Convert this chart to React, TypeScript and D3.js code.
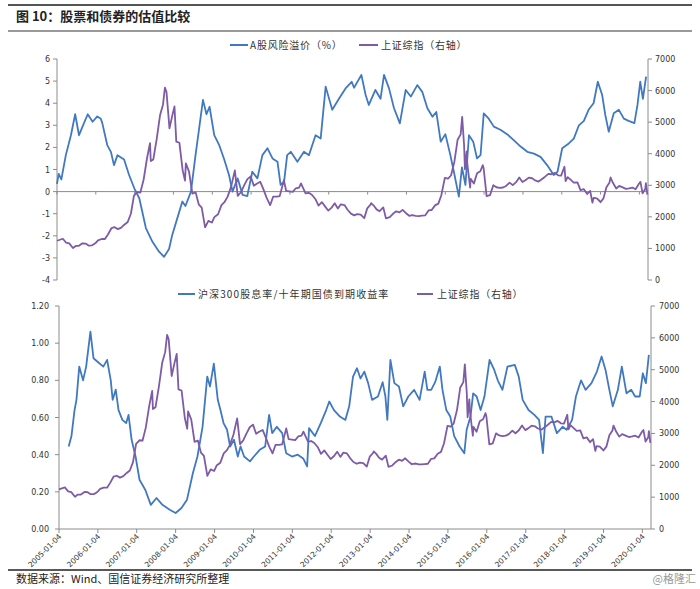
import React from 'react';
import * as d3 from 'd3';

type Pt = [string, number];

// 上证综指 (right axis, both panels)
const sse: Pt[] = [
  ['2005-01-04', 1243], ['2005-02-28', 1306], ['2005-03-31', 1181], ['2005-04-29', 1159], ['2005-06-03', 1013], ['2005-06-30', 1080],
  ['2005-07-29', 1083], ['2005-08-31', 1162], ['2005-09-30', 1155], ['2005-10-28', 1092], ['2005-11-30', 1099], ['2005-12-30', 1161],
  ['2006-01-25', 1258], ['2006-02-28', 1299], ['2006-03-31', 1298], ['2006-04-28', 1440], ['2006-05-31', 1641], ['2006-06-30', 1672],
  ['2006-07-31', 1612], ['2006-08-31', 1658], ['2006-09-29', 1752], ['2006-10-31', 1837], ['2006-11-30', 2099], ['2006-12-29', 2675],
  ['2007-01-31', 2786], ['2007-02-27', 2771], ['2007-03-30', 3183], ['2007-04-30', 3841], ['2007-05-29', 4335], ['2007-06-05', 3767],
  ['2007-06-29', 3820], ['2007-07-31', 4471], ['2007-08-31', 5218], ['2007-09-28', 5552], ['2007-10-16', 6092], ['2007-10-31', 5954],
  ['2007-11-28', 4803], ['2007-12-28', 5262], ['2008-01-14', 5497], ['2008-01-31', 4383], ['2008-02-29', 4348], ['2008-03-31', 3473],
  ['2008-04-22', 3147], ['2008-04-30', 3693], ['2008-05-30', 3433], ['2008-06-30', 2736], ['2008-07-31', 2776], ['2008-08-29', 2397],
  ['2008-09-26', 2293], ['2008-10-28', 1665], ['2008-11-28', 1871], ['2008-12-31', 1821], ['2009-01-23', 1991], ['2009-02-27', 2082],
  ['2009-03-31', 2373], ['2009-04-30', 2477], ['2009-05-27', 2633], ['2009-06-30', 2959], ['2009-08-04', 3471], ['2009-08-31', 2667],
  ['2009-09-30', 2779], ['2009-10-30', 2996], ['2009-11-30', 3195], ['2009-12-31', 3277], ['2010-01-29', 2989], ['2010-02-26', 3051],
  ['2010-03-31', 3110], ['2010-04-30', 2871], ['2010-05-31', 2592], ['2010-07-02', 2373], ['2010-07-30', 2638], ['2010-08-31', 2639],
  ['2010-09-30', 2656], ['2010-11-08', 3159], ['2010-11-30', 2820], ['2010-12-31', 2808], ['2011-01-31', 2791], ['2011-02-28', 2905],
  ['2011-03-31', 2928], ['2011-04-18', 3057], ['2011-05-31', 2743], ['2011-06-30', 2762], ['2011-07-29', 2701], ['2011-08-31', 2567],
  ['2011-09-30', 2359], ['2011-10-31', 2468], ['2011-11-30', 2333], ['2011-12-30', 2199], ['2012-01-31', 2292], ['2012-02-29', 2428],
  ['2012-03-30', 2263], ['2012-04-27', 2397], ['2012-05-31', 2373], ['2012-06-29', 2225], ['2012-07-31', 2103], ['2012-08-31', 2047],
  ['2012-09-28', 2086], ['2012-10-31', 2069], ['2012-12-03', 1959], ['2012-12-31', 2269], ['2013-01-31', 2385], ['2013-02-06', 2434],
  ['2013-02-28', 2366], ['2013-03-29', 2237], ['2013-04-26', 2178], ['2013-05-31', 2301], ['2013-06-25', 1951], ['2013-07-31', 1994],
  ['2013-08-30', 2098], ['2013-09-30', 2175], ['2013-10-31', 2141], ['2013-11-29', 2220], ['2013-12-31', 2116], ['2014-01-30', 2033],
  ['2014-02-28', 2056], ['2014-03-31', 2033], ['2014-04-30', 2026], ['2014-05-30', 2039], ['2014-06-30', 2048], ['2014-07-31', 2202],
  ['2014-08-29', 2217], ['2014-09-30', 2364], ['2014-10-31', 2420], ['2014-11-28', 2683], ['2014-12-31', 3235], ['2015-01-30', 3210],
  ['2015-02-27', 3310], ['2015-03-31', 3748], ['2015-04-30', 4442], ['2015-05-29', 4612], ['2015-06-12', 5166], ['2015-06-30', 4277],
  ['2015-07-08', 3507], ['2015-07-24', 4070], ['2015-07-31', 3664], ['2015-08-26', 2927], ['2015-08-31', 3206], ['2015-09-30', 3053],
  ['2015-10-30', 3383], ['2015-11-30', 3445], ['2015-12-23', 3636], ['2015-12-31', 3539], ['2016-01-28', 2656], ['2016-02-29', 2688],
  ['2016-03-31', 3004], ['2016-04-29', 2938], ['2016-05-31', 2917], ['2016-06-30', 2930], ['2016-07-29', 2979], ['2016-08-31', 3085],
  ['2016-09-30', 3005], ['2016-10-31', 3100], ['2016-11-30', 3250], ['2016-12-30', 3104], ['2017-01-26', 3159], ['2017-02-28', 3242],
  ['2017-03-31', 3223], ['2017-04-28', 3155], ['2017-05-31', 3117], ['2017-06-30', 3192], ['2017-07-31', 3273], ['2017-08-31', 3361],
  ['2017-09-29', 3349], ['2017-10-31', 3393], ['2017-11-30', 3317], ['2017-12-29', 3307], ['2018-01-29', 3587], ['2018-02-09', 3129],
  ['2018-02-28', 3259], ['2018-03-30', 3169], ['2018-04-27', 3082], ['2018-05-31', 3095], ['2018-06-29', 2847], ['2018-07-31', 2876],
  ['2018-08-31', 2725], ['2018-09-28', 2821], ['2018-10-19', 2450], ['2018-10-31', 2603], ['2018-11-30', 2588], ['2018-12-28', 2494],
  ['2019-01-03', 2464], ['2019-01-31', 2585], ['2019-02-28', 2941], ['2019-03-29', 3091], ['2019-04-08', 3247], ['2019-04-30', 3078],
  ['2019-05-31', 2899], ['2019-06-28', 2979], ['2019-07-31', 2933], ['2019-08-30', 2886], ['2019-09-30', 2905], ['2019-10-31', 2929],
  ['2019-11-29', 2872], ['2019-12-31', 3050], ['2020-01-14', 3106], ['2020-02-03', 2746], ['2020-02-28', 2880], ['2020-03-05', 3071],
  ['2020-03-19', 2702],
];

// A股风险溢价（%）
const premium: Pt[] = [
  ['2005-01-04', 0.35], ['2005-01-20', 0.8], ['2005-02-14', 0.55], ['2005-03-28', 1.65], ['2005-05-15', 2.55], ['2005-06-24', 3.5],
  ['2005-07-30', 2.55], ['2005-09-01', 2.94], ['2005-10-20', 3.5], ['2005-12-05', 3.16], ['2006-01-18', 3.4], ['2006-02-20', 3.3],
  ['2006-03-06', 3.1], ['2006-04-22', 2.1], ['2006-05-26', 1.8], ['2006-06-24', 1.2], ['2006-07-27', 1.65], ['2006-09-27', 1.45],
  ['2006-11-13', 0.75], ['2007-01-01', 0.15], ['2007-02-17', -0.3], ['2007-04-20', -1.65], ['2007-06-21', -2.27], ['2007-08-22', -2.72],
  ['2007-10-08', -2.95], ['2007-11-24', -2.6], ['2007-12-24', -1.96], ['2008-02-10', -1.2], ['2008-03-28', -0.45], ['2008-04-26', -0.65],
  ['2008-06-17', 0.0], ['2008-07-30', 1.65], ['2008-09-02', 2.86], ['2008-10-08', 4.15], ['2008-11-10', 3.5], ['2008-12-09', 3.84],
  ['2009-01-22', 2.56], ['2009-03-10', 2.1], ['2009-04-23', 1.5], ['2009-06-10', 0.75], ['2009-07-13', 0.0], ['2009-08-30', 0.6],
  ['2009-10-16', -0.15], ['2009-11-29', -0.2], ['2010-01-15', 0.9], ['2010-03-04', 0.6], ['2010-04-20', 1.65], ['2010-06-07', 1.96],
  ['2010-07-24', 1.5], ['2010-09-09', 1.35], ['2010-10-08', 0.3], ['2010-11-10', 0.45], ['2010-12-09', 1.65], ['2011-01-12', 1.8],
  ['2011-03-15', 1.35], ['2011-05-16', 1.8], ['2011-07-02', 1.65], ['2011-09-02', 2.55], ['2011-10-20', 2.4], ['2011-12-06', 4.75],
  ['2012-02-06', 3.7], ['2012-04-09', 4.2], ['2012-06-10', 4.67], ['2012-08-07', 4.97], ['2012-08-29', 4.7], ['2012-11-06', 5.28],
  ['2012-12-16', 4.37], ['2013-01-15', 3.92], ['2013-03-18', 4.6], ['2013-05-05', 4.2], ['2013-06-07', 5.28], ['2013-07-24', 4.67],
  ['2013-09-09', 3.77], ['2013-11-03', 3.09], ['2013-12-28', 4.6], ['2014-02-14', 4.3], ['2014-04-16', 4.82], ['2014-06-03', 4.5],
  ['2014-07-20', 3.77], ['2014-09-06', 3.39], ['2014-10-12', 3.6], ['2014-11-22', 2.26], ['2015-01-05', 2.6], ['2015-02-21', 1.65],
  ['2015-03-26', 0.9], ['2015-05-12', -0.23], ['2015-06-10', 1.1], ['2015-07-13', 0.3], ['2015-08-15', 2.55], ['2015-09-24', 2.26],
  ['2015-10-30', 1.5], ['2015-12-02', 1.65], ['2016-01-01', 3.54], ['2016-02-17', 3.3], ['2016-04-05', 2.94], ['2016-06-06', 2.8],
  ['2016-08-07', 2.6], ['2016-10-09', 2.33], ['2016-12-10', 2.05], ['2017-02-14', 1.8], ['2017-04-17', 1.72], ['2017-06-18', 1.57],
  ['2017-08-19', 1.2], ['2017-10-20', 0.75], ['2017-11-25', 0.9], ['2018-01-08', 1.96], ['2018-03-11', 2.18], ['2018-04-27', 2.4],
  ['2018-06-14', 3.0], ['2018-07-31', 3.2], ['2018-09-13', 3.7], ['2018-10-30', 4.0], ['2018-12-09', 4.97], ['2019-01-19', 4.37],
  ['2019-02-17', 3.47], ['2019-03-22', 2.71], ['2019-05-08', 3.55], ['2019-06-25', 3.7], ['2019-08-11', 3.3], ['2019-09-24', 3.2],
  ['2019-11-18', 3.1], ['2019-12-17', 3.92], ['2020-01-12', 4.97], ['2020-02-06', 4.2], ['2020-03-07', 5.2],
];

// 沪深300股息率/十年期国债到期收益率
const yieldRatio: Pt[] = [
  ['2005-04-05', 0.444], ['2005-05-01', 0.5], ['2005-05-30', 0.64], ['2005-06-17', 0.695], ['2005-07-13', 0.874], ['2005-08-18', 0.8],
  ['2005-09-16', 0.874], ['2005-10-26', 1.062], ['2005-11-24', 0.919], ['2006-01-01', 0.9], ['2006-02-24', 0.874], ['2006-04-01', 0.91],
  ['2006-05-05', 0.8], ['2006-05-23', 0.695], ['2006-06-21', 0.75], ['2006-07-17', 0.64], ['2006-08-22', 0.587], ['2006-09-27', 0.57],
  ['2006-10-19', 0.614], ['2006-11-17', 0.48], ['2006-12-24', 0.39], ['2007-01-30', 0.265], ['2007-03-26', 0.21], ['2007-05-16', 0.13],
  ['2007-07-09', 0.167], ['2007-09-02', 0.13], ['2007-11-10', 0.104], ['2008-01-04', 0.086], ['2008-02-28', 0.113], ['2008-04-20', 0.158],
  ['2008-06-14', 0.3], ['2008-07-27', 0.39], ['2008-09-13', 0.55], ['2008-10-27', 0.82], ['2008-11-22', 0.767], ['2008-12-28', 0.89],
  ['2009-02-03', 0.695], ['2009-02-28', 0.64], ['2009-03-29', 0.57], ['2009-05-01', 0.534], ['2009-05-30', 0.444], ['2009-07-05', 0.48],
  ['2009-08-10', 0.39], ['2009-09-05', 0.444], ['2009-10-08', 0.39], ['2009-12-02', 0.364], ['2010-01-08', 0.39], ['2010-03-04', 0.426],
  ['2010-04-24', 0.444], ['2010-05-31', 0.614], ['2010-06-29', 0.516], ['2010-08-11', 0.55], ['2010-10-01', 0.516], ['2010-11-07', 0.408],
  ['2011-01-01', 0.39], ['2011-02-24', 0.4], ['2011-04-16', 0.38], ['2011-05-23', 0.337], ['2011-06-10', 0.543], ['2011-08-04', 0.5],
  ['2011-09-28', 0.57], ['2011-11-18', 0.64], ['2011-12-17', 0.686], ['2012-01-30', 0.64], ['2012-03-26', 0.605], ['2012-05-16', 0.587],
  ['2012-06-21', 0.66], ['2012-07-27', 0.82], ['2012-09-02', 0.865], ['2012-10-05', 0.81], ['2012-11-10', 0.847], ['2012-12-16', 0.785],
  ['2013-01-22', 0.695], ['2013-03-18', 0.713], ['2013-05-01', 0.79], ['2013-05-27', 0.713], ['2013-06-14', 0.587], ['2013-07-13', 0.91],
  ['2013-08-19', 0.785], ['2013-10-01', 0.767], ['2013-11-10', 0.66], ['2013-12-28', 0.713], ['2014-02-21', 0.749], ['2014-04-13', 0.695],
  ['2014-05-31', 0.847], ['2014-06-25', 0.749], ['2014-07-31', 0.749], ['2014-09-06', 0.79], ['2014-10-20', 0.874], ['2014-11-14', 0.749],
  ['2014-12-20', 0.64], ['2015-01-26', 0.605], ['2015-03-04', 0.5], ['2015-04-24', 0.444], ['2015-06-07', 0.408], ['2015-06-29', 0.534],
  ['2015-08-04', 0.605], ['2015-08-29', 0.73], ['2015-10-01', 0.713], ['2015-11-07', 0.64], ['2015-12-13', 0.713], ['2016-01-30', 0.91],
  ['2016-03-14', 0.856], ['2016-04-16', 0.8], ['2016-05-30', 0.749], ['2016-07-16', 0.874], ['2016-09-23', 0.883], ['2016-10-30', 0.82],
  ['2016-12-06', 0.695], ['2017-01-30', 0.64], ['2017-03-26', 0.614], ['2017-05-09', 0.587], ['2017-06-14', 0.408], ['2017-07-09', 0.605],
  ['2017-09-02', 0.605], ['2017-10-23', 0.516], ['2017-12-16', 0.55], ['2018-01-23', 0.534], ['2018-03-15', 0.587], ['2018-04-20', 0.713],
  ['2018-06-07', 0.8], ['2018-07-20', 0.749], ['2018-09-13', 0.785], ['2018-11-03', 0.847], ['2018-12-17', 0.928], ['2019-01-23', 0.856],
  ['2019-02-28', 0.749], ['2019-04-01', 0.66], ['2019-05-19', 0.749], ['2019-06-25', 0.874], ['2019-08-08', 0.73], ['2019-09-21', 0.749],
  ['2019-10-28', 0.713], ['2019-12-10', 0.713], ['2020-01-08', 0.838], ['2020-02-06', 0.785], ['2020-03-05', 0.937],
];

const topLeftTicks = [6, 5, 4, 3, 2, 1, 0, -1, -2, -3, -4];
const rightTicks = [0, 1000, 2000, 3000, 4000, 5000, 6000, 7000];
const bottomLeftTicks = [0, 0.2, 0.4, 0.6, 0.8, 1.0, 1.2];
const xTickLabels = [
  '2005-01-04', '2006-01-04', '2007-01-04', '2008-01-04', '2009-01-04', '2010-01-04', '2011-01-04', '2012-01-04',
  '2013-01-04', '2014-01-04', '2015-01-04', '2016-01-04', '2017-01-04', '2018-01-04', '2019-01-04', '2020-01-04',
];
const xDomain = ['2005-01-04', '2020-03-25'];

const BLUE = '#4179c0';
const PURPLE = '#7d5ba6';
const AXIS = '#8c8c8c';
const TXT = '#333';
const NUM_FONT = '"DejaVu Sans", Verdana, sans-serif';
const CJK_FONT = '"Noto Sans CJK SC", sans-serif';

const parse = d3.timeParse('%Y-%m-%d');

export default function App() {
  const dom = xDomain.map((s) => parse(s) as Date);

  // top panel
  const xT = d3.scaleTime().domain(dom).range([57, 648]);
  const yTL = d3.scaleLinear().domain([-4, 6]).range([280, 59]);
  const yTR = d3.scaleLinear().domain([0, 7000]).range([280, 59]);

  // bottom panel
  const xB = d3.scaleTime().domain(dom).range([59, 651]);
  const yBL = d3.scaleLinear().domain([0, 1.2]).range([529, 306]);
  const yBR = d3.scaleLinear().domain([0, 7000]).range([529, 306]);

  const mk = (x: d3.ScaleTime<number, number>, y: d3.ScaleLinear<number, number>) =>
    d3.line<Pt>().x((d) => x(parse(d[0]) as Date)).y((d) => y(d[1]))!;

  const topPrem = mk(xT, yTL)(premium) || '';
  const topSse = mk(xT, yTR)(sse) || '';
  const botYield = mk(xB, yBL)(yieldRatio) || '';
  const botSse = mk(xB, yBR)(sse) || '';

  return (
    <svg width={700} height={589} style={{ position: 'absolute', left: 0, top: 0, background: '#fff' }}>
      <rect x={0} y={0} width={700} height={589} fill="#fff" />
      {/* header */}
      <line x1={8} x2={692} y1={5} y2={5} stroke="#555" strokeWidth={2} />
      <text x={16} y={21} fontFamily={CJK_FONT} fontSize={13} fontWeight="bold" fill="#222">图 10：股票和债券的估值比较</text>
      <line x1={8} x2={692} y1={31} y2={31} stroke="#777" strokeWidth={1.5} />

      {/* top legend */}
      <line x1={230} x2={248} y1={45} y2={45} stroke={BLUE} strokeWidth={2} />
      <text x={250} y={49} fontFamily={CJK_FONT} fontSize={10} fill={TXT} letterSpacing={0.8}>A股风险溢价（%）</text>
      <line x1={359} x2={378} y1={45} y2={45} stroke={PURPLE} strokeWidth={2} />
      <text x={381} y={49} fontFamily={CJK_FONT} fontSize={10} fill={TXT} letterSpacing={0.8}>上证综指（右轴）</text>

      {/* top axes */}
      <line x1={57} x2={57} y1={59} y2={280} stroke={AXIS} />
      {topLeftTicks.map((t) => (
        <g key={'tl' + t}>
          <line x1={53} x2={57} y1={yTL(t)} y2={yTL(t)} stroke={AXIS} />
          <text x={50} y={yTL(t) + 3} textAnchor="end" fontFamily={NUM_FONT} fontSize={8} fill={TXT}>{t}</text>
        </g>
      ))}
      <line x1={648} x2={648} y1={59} y2={280} stroke={AXIS} />
      {rightTicks.map((t) => (
        <g key={'tr' + t}>
          <line x1={648} x2={652} y1={yTR(t)} y2={yTR(t)} stroke={AXIS} />
          <text x={655} y={yTR(t) + 3} textAnchor="start" fontFamily={NUM_FONT} fontSize={8} fill={TXT}>{t}</text>
        </g>
      ))}
      <line x1={57} x2={648} y1={yTL(0)} y2={yTL(0)} stroke={AXIS} />
      {xTickLabels.map((s) => (
        <line key={'tt' + s} x1={xT(parse(s) as Date)} x2={xT(parse(s) as Date)} y1={yTL(0)} y2={yTL(0) + 3} stroke={AXIS} />
      ))}
      <path d={topPrem} fill="none" stroke={BLUE} strokeWidth={1.8} strokeLinejoin="round" />
      <path d={topSse} fill="none" stroke={PURPLE} strokeWidth={1.8} strokeLinejoin="round" />

      {/* bottom legend */}
      <line x1={178} x2={195} y1={294} y2={294} stroke={BLUE} strokeWidth={2} />
      <text x={198} y={298} fontFamily={CJK_FONT} fontSize={10} fill={TXT} letterSpacing={1.1}>沪深300股息率/十年期国债到期收益率</text>
      <line x1={417} x2={433} y1={294} y2={294} stroke={PURPLE} strokeWidth={2} />
      <text x={437} y={298} fontFamily={CJK_FONT} fontSize={10} fill={TXT} letterSpacing={0.8}>上证综指（右轴）</text>

      {/* bottom axes */}
      <line x1={59} x2={59} y1={306} y2={529} stroke={AXIS} />
      {bottomLeftTicks.map((t) => (
        <g key={'bl' + t}>
          <line x1={55} x2={59} y1={yBL(t)} y2={yBL(t)} stroke={AXIS} />
          <text x={49} y={yBL(t) + 3} textAnchor="end" fontFamily={NUM_FONT} fontSize={8} fill={TXT}>{t.toFixed(2)}</text>
        </g>
      ))}
      <line x1={651} x2={651} y1={306} y2={529} stroke={AXIS} />
      {rightTicks.map((t) => (
        <g key={'br' + t}>
          <line x1={651} x2={655} y1={yBR(t)} y2={yBR(t)} stroke={AXIS} />
          <text x={659} y={yBR(t) + 3} textAnchor="start" fontFamily={NUM_FONT} fontSize={8} fill={TXT}>{t}</text>
        </g>
      ))}
      <line x1={59} x2={651} y1={529} y2={529} stroke={AXIS} />
      {xTickLabels.map((s) => {
        const x = xB(parse(s) as Date);
        return (
          <g key={'bx' + s}>
            <line x1={x} x2={x} y1={529} y2={533} stroke={AXIS} />
            <text transform={`translate(${x + 3},${537}) rotate(-45)`} textAnchor="end" fontFamily={NUM_FONT} fontSize={7.5} fill={TXT}>{s}</text>
          </g>
        );
      })}
      <path d={botYield} fill="none" stroke={BLUE} strokeWidth={1.8} strokeLinejoin="round" />
      <path d={botSse} fill="none" stroke={PURPLE} strokeWidth={1.8} strokeLinejoin="round" />

      {/* footer */}
      <line x1={8} x2={692} y1={570} y2={570} stroke="#222" strokeWidth={1.5} />
      <text x={16} y={583} fontFamily={CJK_FONT} fontSize={11} fill="#222">数据来源：Wind、国信证券经济研究所整理</text>
      <text x={696} y={583} textAnchor="end" fontFamily={CJK_FONT} fontSize={11} fill="#999">@格隆汇</text>
    </svg>
  );
}
